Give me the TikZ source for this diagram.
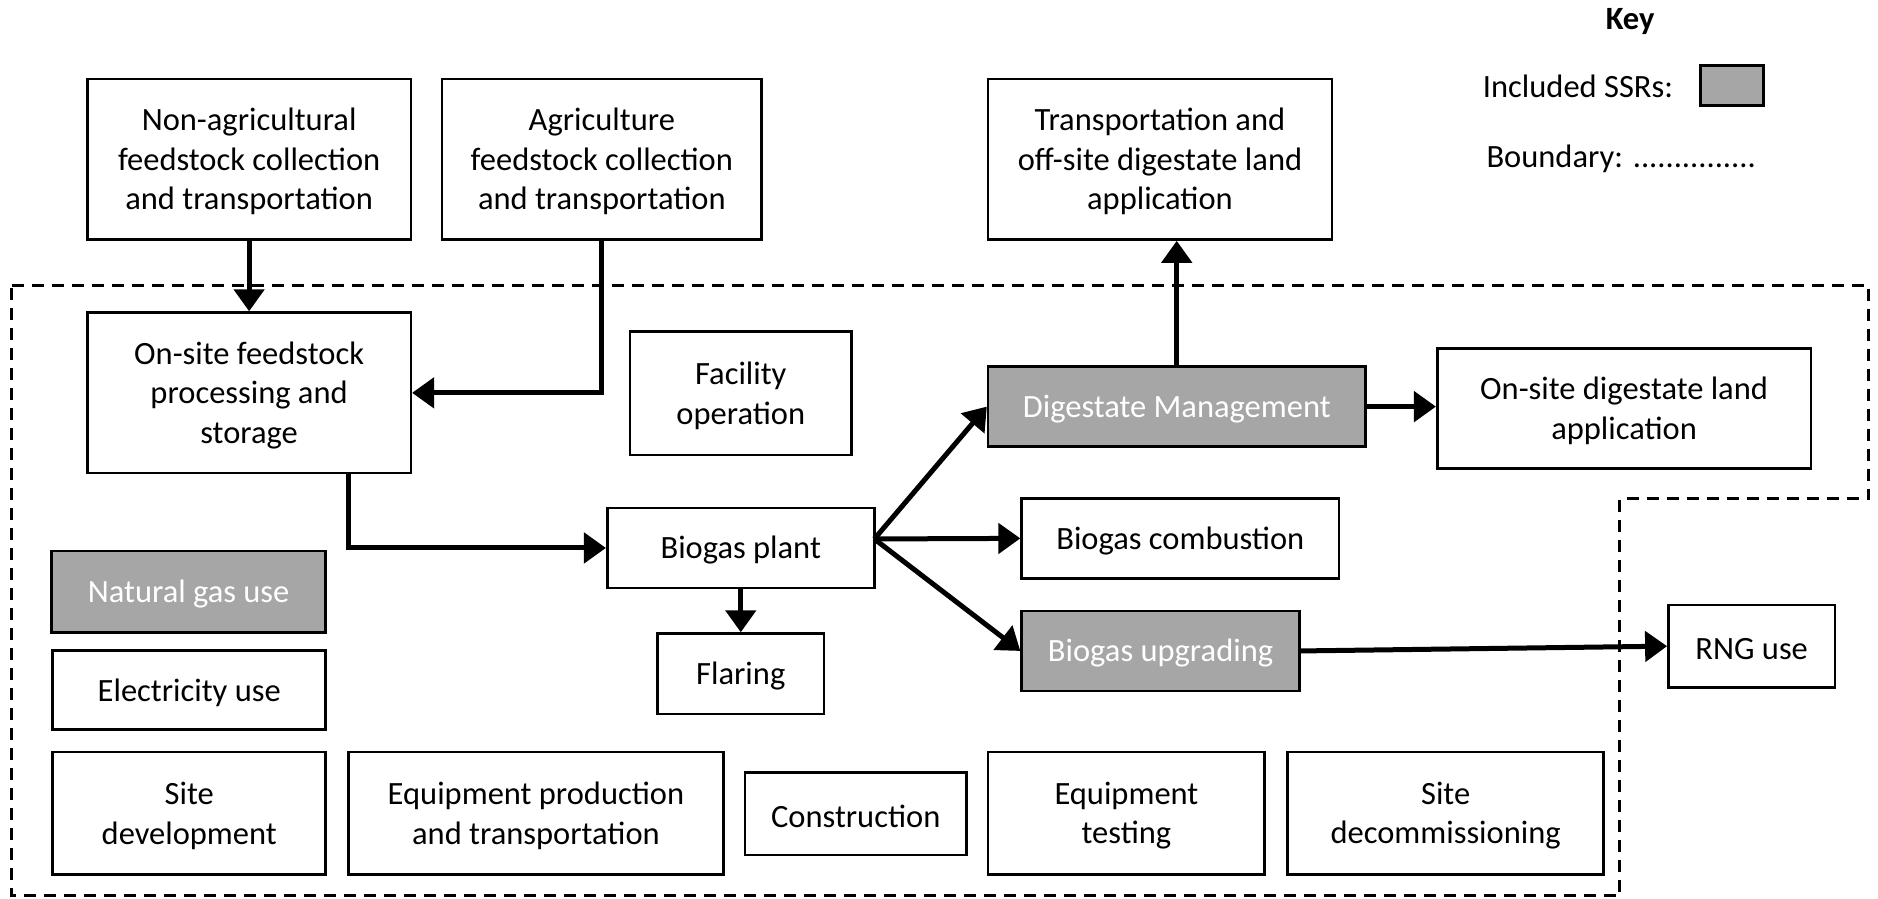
\documentclass[tikz,border=0pt]{standalone}
\usepackage{fontspec}
\setmainfont{Carlito}
\usetikzlibrary{fit,arrows.meta,calc}
\definecolor{ssrgray}{HTML}{A6A6A6}
\begin{document}
\begin{tikzpicture}[x=1.1977pt,y=-1.1977pt,
  box/.style={draw, line width=2.6pt, inner sep=0pt},
  incl/.style={box, fill=ssrgray},
  lbl/.style={align=center, inner sep=0pt, yshift=-2.5pt, font=\fontsize{32.5}{39.5}\selectfont},
  wlbl/.style={lbl, text=white},
  flow/.style={line width=5pt, -{Triangle[length=22pt,width=30pt]}},
  bound/.style={line width=3pt, dash pattern=on 12pt off 8pt},
  keytext/.style={inner sep=0pt, font=\fontsize{32.5}{39.5}\selectfont},
]
\useasboundingbox (0,0) rectangle (1568,750);

% key
\node[keytext, font=\fontsize{32.5}{39.5}\selectfont\bfseries] (key) at (1361,18) {Key};
\node[keytext, anchor=west] (inclt) at (1238,72) {Included SSRs:};
\node[draw, line width=3pt, fill=ssrgray, inner sep=0pt, fit={(1420,55)(1472,88)}] (inclbox) {};
\node[keytext, anchor=west] (boundt) at (1241,133) {Boundary: ...............};

% boundary
\draw[bound] (10,238) -- (1560,238) -- (1560,416.5) -- (1352,416.5) -- (1352,748) -- (10,748) -- cycle;

% boxes
\node[box, fit={(73,66)(343,200)}, label={[lbl]center:{Non-agricultural\\feedstock collection\\and transportation}}] (nonag) {};
\node[box, fit={(369,66)(636,200)}, label={[lbl]center:{Agriculture\\feedstock collection\\and transportation}}] (agri) {};
\node[box, fit={(825,66)(1112,200)}, label={[lbl]center:{Transportation and\\off-site digestate land\\application}}] (trans) {};
\node[box, fit={(73,261)(343,395)}, label={[lbl]center:{On-site feedstock\\processing and\\storage}}] (onsite) {};
\node[box, fit={(526,277)(711,380)}, label={[lbl]center:{Facility\\operation}}] (facility) {};
\node[incl, fit={(825,306)(1140,373)}, label={[wlbl]center:{Digestate Management}}] (digest) {};
\node[box, fit={(1200,291)(1512,391)}, label={[lbl]center:{On-site digestate land\\application}}] (landapp) {};
\node[box, fit={(507,424)(730,491)}, label={[lbl]center:{Biogas plant}}] (plant) {};
\node[box, fit={(853,416)(1118,483)}, label={[lbl]center:{Biogas combustion}}] (combust) {};
\node[incl, fit={(43,460)(272,528)}, label={[wlbl]center:{Natural gas use}}] (natgas) {};
\node[box, fit={(549,529)(688,596)}, label={[lbl]center:{Flaring}}] (flaring) {};
\node[incl, fit={(853,510)(1085,577)}, label={[wlbl]center:{Biogas upgrading}}] (upgrade) {};
\node[box, fit={(1393,505)(1532,574)}, label={[lbl]center:{RNG use}}] (rng) {};
\node[box, fit={(44,543)(272,609)}, label={[lbl]center:{Electricity use}}] (elec) {};
\node[box, fit={(44,628)(272,730)}, label={[lbl]center:{Site\\development}}] (sitedev) {};
\node[box, fit={(291,628)(604,730)}, label={[lbl]center:{Equipment production\\and transportation}}] (equip) {};
\node[box, fit={(622,645)(807,714)}, label={[lbl]center:{Construction}}] (constr) {};
\node[box, fit={(825,628)(1056,730)}, label={[lbl]center:{Equipment\\testing}}] (test) {};
\node[box, fit={(1075,628)(1339,730)}, label={[lbl]center:{Site\\decommissioning}}] (decom) {};

% connectors
\coordinate (onsiteout) at (291,395);
\coordinate (pf) at (730,450);
\draw[flow] (nonag.south) -- (onsite.north);
\draw[flow] (agri.south) |- (onsite.east);
\draw[flow] (onsiteout) |- (plant.west);
\draw[flow] (pf) -- (digest.west);
\draw[flow] (pf) -- (combust.west);
\draw[flow] (pf) -- (upgrade.west);
\draw[flow] (plant.south) -- (flaring.north);
\draw[flow] (digest.north) -- (digest.north |- trans.south);
\draw[flow] (digest.east) -- (digest.east -| landapp.west);
\draw[flow] (upgrade.east) -- (rng.west);
\end{tikzpicture}
\end{document}
